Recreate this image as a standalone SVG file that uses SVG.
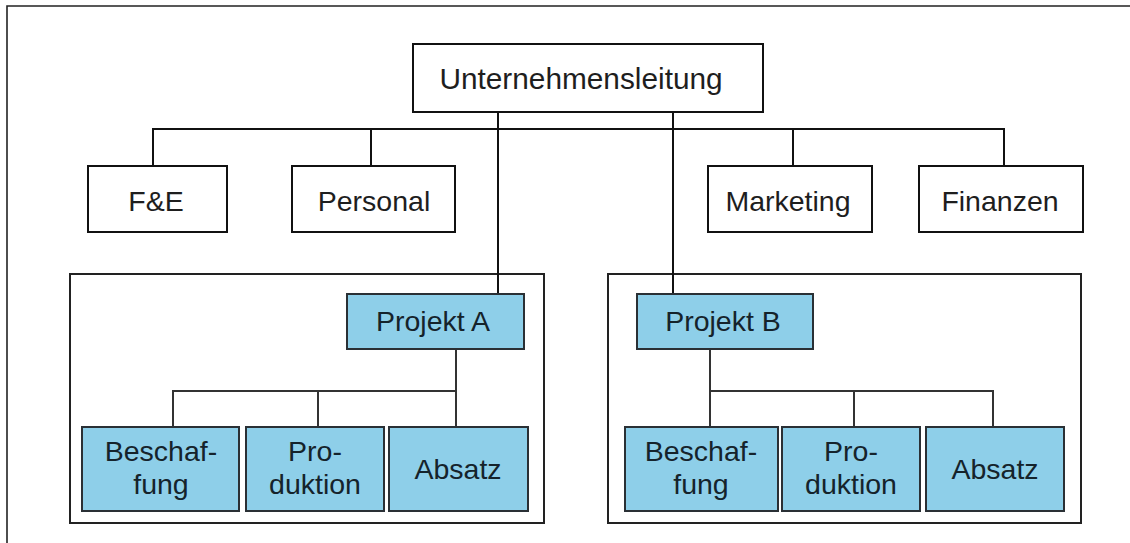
<svg xmlns="http://www.w3.org/2000/svg" width="1130" height="543" viewBox="0 0 1130 543">
<style>
text{font-family:"Liberation Sans",Arial,sans-serif;font-size:28.5px;text-anchor:middle}
.w{fill:#fff;stroke:#111;stroke-width:2}
.b{fill:#8ecfe9;stroke:#2a3035;stroke-width:2}
.bt{fill:#15232b}
.wt{fill:#1e1e1e}
.c{fill:none;stroke:#111;stroke-width:2}
.ci{fill:none;stroke:#333;stroke-width:2}
.frame{fill:none;stroke:#222;stroke-width:1.6}
</style>
<rect width="1130" height="543" fill="#fff"/>
<path class="frame" d="M7,543 V6 H1130"/>
<g id="containerA"><rect class="frame" x="70" y="274" width="474" height="249" style="stroke-width:2"/></g>
<g id="containerB"><rect class="frame" x="608" y="274" width="473" height="249" style="stroke-width:2"/></g>
<g id="connectors">
<path class="c" d="M153,166 V129 H1004 V166 M371,129 V166 M793,129 V166"/>
<path class="c" d="M498,112 V294 M673,112 V294"/>
<path class="ci" d="M456,349 V427 M173,427 V391 H456 M318,391 V427"/>
<path class="ci" d="M710,349 V427 M710,391 H993 V427 M854,391 V427"/>
</g>
<g id="unternehmensleitung"><rect class="w" x="413" y="44" width="350" height="68"/><text class="wt" x="581" y="89" style="font-size:29.8px">Unternehmensleitung</text></g>
<g id="fue"><rect class="w" x="88" y="166" width="139" height="66"/><text class="wt" x="156" y="211">F&amp;E</text></g>
<g id="personal"><rect class="w" x="292" y="166" width="163" height="66"/><text class="wt" x="374" y="211">Personal</text></g>
<g id="marketing"><rect class="w" x="708" y="166" width="164" height="66"/><text class="wt" x="788" y="211">Marketing</text></g>
<g id="finanzen"><rect class="w" x="919" y="166" width="164" height="66"/><text class="wt" x="1000" y="211">Finanzen</text></g>
<g id="projektA"><rect class="b" x="347" y="294" width="177" height="55"/><text class="bt" x="433" y="331">Projekt A</text></g>
<g id="projektB"><rect class="b" x="637" y="294" width="176" height="55"/><text class="bt" x="723" y="331">Projekt B</text></g>
<g id="beschaffungA"><rect class="b" x="82" y="427" width="157" height="84"/><text class="bt" x="161" y="461">Beschaf-</text><text class="bt" x="161" y="494">fung</text></g>
<g id="produktionA"><rect class="b" x="246" y="427" width="138" height="84"/><text class="bt" x="315" y="461">Pro-</text><text class="bt" x="315" y="494">duktion</text></g>
<g id="absatzA"><rect class="b" x="389" y="427" width="139" height="84"/><text class="bt" x="458" y="479">Absatz</text></g>
<g id="beschaffungB"><rect class="b" x="625" y="427" width="153" height="84"/><text class="bt" x="701" y="461">Beschaf-</text><text class="bt" x="701" y="494">fung</text></g>
<g id="produktionB"><rect class="b" x="782" y="427" width="138" height="84"/><text class="bt" x="851" y="461">Pro-</text><text class="bt" x="851" y="494">duktion</text></g>
<g id="absatzB"><rect class="b" x="926" y="427" width="138" height="84"/><text class="bt" x="995" y="479">Absatz</text></g>
</svg>
